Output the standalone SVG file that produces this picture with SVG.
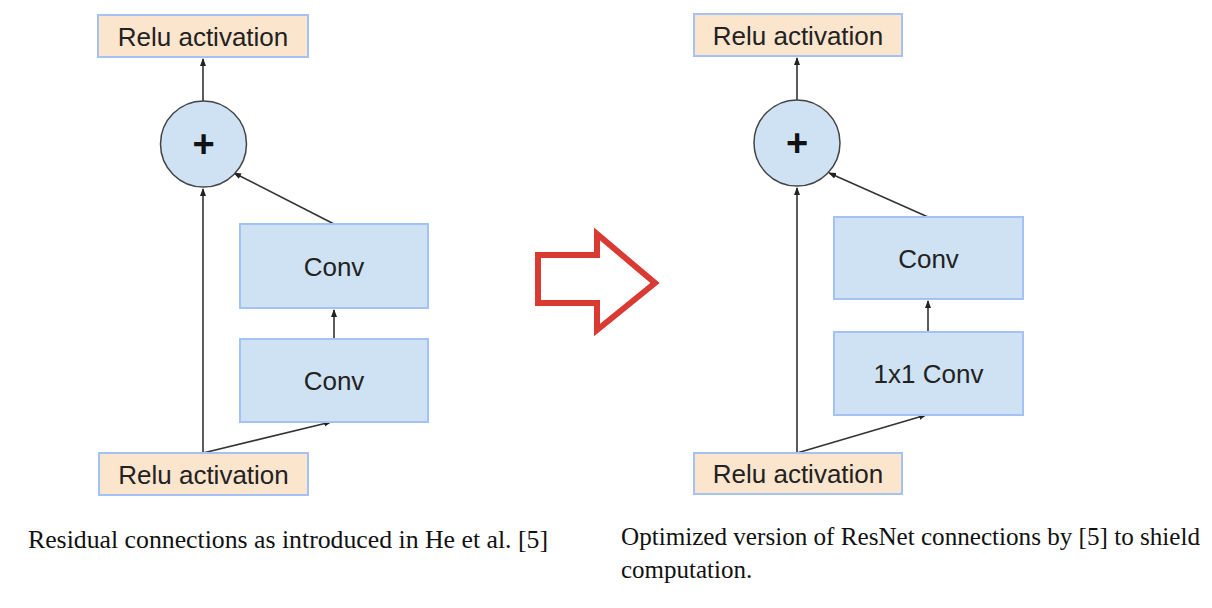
<svg xmlns="http://www.w3.org/2000/svg" width="1212" height="608" viewBox="0 0 1212 608">
<defs>
<marker id="ah" markerWidth="8" markerHeight="8" refX="7" refY="4" orient="auto" markerUnits="userSpaceOnUse">
<path d="M0,1 L8,4 L0,7 z" fill="#222"/>
</marker>
<style>
.relu{fill:#fce5cd;stroke:#a4c2f4;stroke-width:2}
.conv{fill:#cfe2f3;stroke:#a4c2f4;stroke-width:2}
.sum{fill:#cfe2f3;stroke:#444;stroke-width:1.5}
.lbl{font-family:"Liberation Sans",Arial,sans-serif;font-size:26px;fill:#222;text-anchor:middle}
.plus{font-family:"Liberation Sans",Arial,sans-serif;font-size:38px;font-weight:bold;fill:#111;text-anchor:middle}
.cap{font-family:"Liberation Serif","Times New Roman",serif;font-size:25px;fill:#111}
.edge{stroke:#333;stroke-width:1.6;fill:none}
</style>
</defs>
<rect width="1212" height="608" fill="#fff"/>
<g id="connectors">
<line class="edge" x1="203" y1="101" x2="203" y2="59" marker-end="url(#ah)"/>
<line class="edge" x1="203" y1="453" x2="203" y2="189" marker-end="url(#ah)"/>
<line class="edge" x1="203" y1="453" x2="331" y2="422" marker-end="url(#ah)"/>
<line class="edge" x1="334" y1="339" x2="334" y2="310" marker-end="url(#ah)"/>
<line class="edge" x1="334" y1="224" x2="234" y2="173" marker-end="url(#ah)"/>
<line class="edge" x1="797" y1="100" x2="797" y2="58" marker-end="url(#ah)"/>
<line class="edge" x1="797" y1="453" x2="797" y2="188" marker-end="url(#ah)"/>
<line class="edge" x1="797" y1="453" x2="926" y2="415" marker-end="url(#ah)"/>
<line class="edge" x1="928" y1="332" x2="928" y2="301" marker-end="url(#ah)"/>
<line class="edge" x1="928" y1="217" x2="829" y2="173" marker-end="url(#ah)"/>
</g>
<g id="l-relu-top"><rect class="relu" x="98" y="15" width="210" height="42"/><text class="lbl" x="203" y="46">Relu activation</text></g>
<g id="l-sum"><circle class="sum" cx="203.5" cy="144" r="43"/><text class="plus" x="203.5" y="157">+</text></g>
<g id="l-conv2"><rect class="conv" x="240" y="224" width="188" height="84"/><text class="lbl" x="334" y="276">Conv</text></g>
<g id="l-conv1"><rect class="conv" x="240" y="339" width="188" height="83"/><text class="lbl" x="334" y="390">Conv</text></g>
<g id="l-relu-bot"><rect class="relu" x="99" y="453" width="209" height="42"/><text class="lbl" x="203.5" y="484">Relu activation</text></g>
<g id="r-relu-top"><rect class="relu" x="694" y="14" width="208" height="42"/><text class="lbl" x="798" y="45">Relu activation</text></g>
<g id="r-sum"><circle class="sum" cx="797" cy="143" r="43"/><text class="plus" x="797" y="156">+</text></g>
<g id="r-conv"><rect class="conv" x="834" y="217" width="189" height="82"/><text class="lbl" x="928.5" y="268">Conv</text></g>
<g id="r-conv1x1"><rect class="conv" x="834" y="332" width="189" height="83"/><text class="lbl" x="928.5" y="383">1x1 Conv</text></g>
<g id="r-relu-bot"><rect class="relu" x="694" y="453" width="208" height="41"/><text class="lbl" x="798" y="483">Relu activation</text></g>
<g id="red-arrow"><polygon points="538,255 597,255 597,234 655,283 597,330 597,303 538,303" fill="none" stroke="#d93a32" stroke-width="6" stroke-linejoin="miter"/></g>
<text class="cap" x="28" y="548" textLength="520" lengthAdjust="spacingAndGlyphs">Residual connections as introduced in He et al. [5]</text>
<text class="cap" x="621" y="545" textLength="579" lengthAdjust="spacingAndGlyphs">Optimized version of ResNet connections by [5] to shield</text>
<text class="cap" x="621" y="578">computation.</text>
</svg>
